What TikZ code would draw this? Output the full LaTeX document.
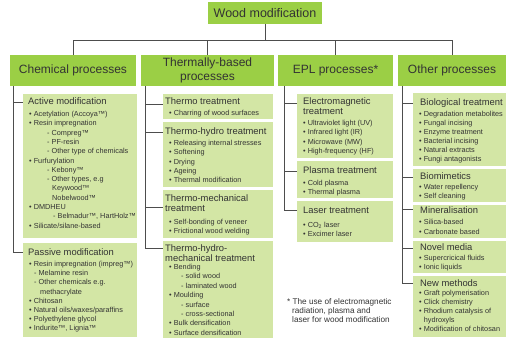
\documentclass[tikz,border=0pt]{standalone}
\usepackage{fontspec}
\setmainfont{Liberation Sans}
\usetikzlibrary{calc}
\definecolor{hdrgreen}{HTML}{9BCF45}
\definecolor{subgreen}{HTML}{D3E6A5}
\definecolor{txt}{HTML}{333333}
\definecolor{linec}{HTML}{4D4D4D}
\begin{document}
\begin{tikzpicture}[x=1pt,y=-1pt,
  hdr/.style={fill=hdrgreen, inner sep=0pt, text=txt, align=center, font=\fontsize{12}{14}\selectfont},
  sub/.style={fill=subgreen, inner sep=0pt, anchor=north west},
  ttl/.style={anchor=north west, inner sep=0pt, yshift=4.3pt, align=left, text=txt, font=\fontsize{9.4}{10.5}\selectfont},
  itm/.style={anchor=north west, inner sep=0pt, yshift=3.3pt, align=left, text=txt, font=\fontsize{7.3}{9.3}\selectfont},
  note/.style={anchor=north west, inner sep=0pt, yshift=3.6pt, align=left, text=txt, font=\fontsize{8.2}{8.8}\selectfont},
  conn/.style={draw=linec, line width=0.8pt}]
\useasboundingbox (0,0) rectangle (506,345);

% top and headers
\node[hdr, minimum width=114pt, minimum height=22pt, font=\fontsize{12.5}{14}\selectfont] (wm) at (265,13) {Wood modification};
\node[hdr, minimum width=126pt, minimum height=31pt] (chem) at (73,70.5) {Chemical processes};
\node[hdr, minimum width=133pt, minimum height=31pt] (therm) at (207.5,70.5) {Thermally-based\\processes};
\node[hdr, minimum width=115pt, minimum height=31pt] (epl) at (335.5,70.5) {EPL processes*};
\node[hdr, minimum width=108pt, minimum height=31pt] (oth) at (452,70.5) {Other processes};

% sub boxes
\node[sub, minimum width=114pt, minimum height=144pt] (act) at (23,94) {};
\node[sub, minimum width=114pt, minimum height=94pt] (pas) at (23,243) {};
\node[sub, minimum width=110pt, minimum height=25pt] (tt) at (163,94) {};
\node[sub, minimum width=110pt, minimum height=65pt] (tht) at (163,122) {};
\node[sub, minimum width=110pt, minimum height=48pt] (tmt) at (163,190) {};
\node[sub, minimum width=110pt, minimum height=97pt] (thm) at (163,241) {};
\node[sub, minimum width=96pt, minimum height=64pt] (em) at (297,94) {};
\node[sub, minimum width=96pt, minimum height=37pt] (pl) at (297,161) {};
\node[sub, minimum width=96pt, minimum height=41pt] (la) at (297,201) {};
\node[sub, minimum width=93pt, minimum height=73pt] (bio) at (413,93) {};
\node[sub, minimum width=93pt, minimum height=33pt] (bm) at (413,169) {};
\node[sub, minimum width=93pt, minimum height=33pt] (mi) at (413,205) {};
\node[sub, minimum width=93pt, minimum height=32pt] (nm) at (413,241) {};
\node[sub, minimum width=93pt, minimum height=61pt] (nw) at (413,276) {};

% titles
\node[ttl] (act-t) at (28,101) {\rule{0pt}{7.2pt}Active modification};
\node[ttl] (pas-t) at (28,252) {\rule{0pt}{7.2pt}Passive modification};
\node[ttl] (tt-t) at (165,101) {\rule{0pt}{7.2pt}Thermo treatment};
\node[ttl] (tht-t) at (165,131) {\rule{0pt}{7.2pt}Thermo-hydro treatment};
\node[ttl] (tmt-t) at (165,198) {\rule{0pt}{7.2pt}Thermo-mechanical\\treatment};
\node[ttl] (thm-t) at (165,248) {\rule{0pt}{7.2pt}Thermo-hydro-\\mechanical treatment};
\node[ttl] (em-t) at (303,101) {\rule{0pt}{7.2pt}Electromagnetic\\treatment};
\node[ttl] (pl-t) at (303,170) {\rule{0pt}{7.2pt}Plasma treatment};
\node[ttl] (la-t) at (303,210) {\rule{0pt}{7.2pt}Laser treatment};
\node[ttl] (bio-t) at (420,102) {\rule{0pt}{7.2pt}Biological treatment};
\node[ttl] (bm-t) at (420,176) {\rule{0pt}{7.2pt}Biomimetics};
\node[ttl] (mi-t) at (420,210) {\rule{0pt}{7.2pt}Mineralisation};
\node[ttl] (nm-t) at (420,247) {\rule{0pt}{7.2pt}Novel media};
\node[ttl] (nw-t) at (420,283) {\rule{0pt}{7.2pt}New methods};

% items
\node[itm] (act-i) at (29,114) {\rule{0pt}{5.6pt}• Acetylation (Accoya™)\\
• Resin impregnation\\
\hspace*{18pt}- Compreg™\\
\hspace*{18pt}- PF-resin\\
\hspace*{18pt}- Other type of chemicals\\
• Furfurylation\\
\hspace*{18pt}- Kebony™\\
\hspace*{18pt}- Other types, e.g\\
\hspace*{23pt}Keywood™\\
\hspace*{23pt}Nobelwood™\\
• DMDHEU\\
\hspace*{24pt}- Belmadur™, HartHolz™\\
• Silicate/silane-based};
\node[itm, font=\fontsize{7.3}{9.2}\selectfont] (pas-i) at (29,264) {\rule{0pt}{5.6pt}• Resin impregnation (impreg™)\\
\hspace*{5pt}- Melamine resin\\
\hspace*{5pt}- Other chemicals e.g.\\
\hspace*{11pt}methacrylate\\
• Chitosan\\
• Natural oils/waxes/paraffins\\
• Polyethylene glycol\\
• Indurite™, Lignia™};
\node[itm] (tt-i) at (169,113) {\rule{0pt}{5.6pt}• Charring of wood surfaces};
\node[itm] (tht-i) at (169,143) {\rule{0pt}{5.6pt}• Releasing internal stresses\\
• Softening\\
• Drying\\
• Ageing\\
• Thermal modification};
\node[itm] (tmt-i) at (169,222) {\rule{0pt}{5.6pt}• Self-bonding of veneer\\
• Frictional wood welding};
\node[itm, font=\fontsize{7.3}{9.4}\selectfont] (thm-i) at (169,267) {\rule{0pt}{5.6pt}• Bending\\
\hspace*{12pt}- solid wood\\
\hspace*{12pt}- laminated wood\\
• Moulding\\
\hspace*{12pt}- surface\\
\hspace*{12pt}- cross-sectional\\
• Bulk densification\\
• Surface densification};
\node[itm] (em-i) at (303,123) {\rule{0pt}{5.6pt}• Ultraviolet light (UV)\\
• Infrared light (IR)\\
• Microwave (MW)\\
• High-frequency (HF)};
\node[itm, font=\fontsize{7.3}{8.5}\selectfont] (pl-i) at (303,183) {\rule{0pt}{5.6pt}• Cold plasma\\
• Thermal plasma};
\node[itm, font=\fontsize{7.3}{8.5}\selectfont] (la-i) at (303,225) {\rule{0pt}{5.6pt}• CO\textsubscript{2} laser\\
• Excimer laser};
\node[itm, font=\fontsize{7.3}{9}\selectfont] (bio-i) at (419,114) {\rule{0pt}{5.6pt}• Degradation metabolites\\
• Fungal incising\\
• Enzyme treatment\\
• Bacterial incising\\
• Natural extracts\\
• Fungi antagonists};
\node[itm, font=\fontsize{7.3}{9}\selectfont] (bm-i) at (419,187) {\rule{0pt}{5.6pt}• Water repellency\\
• Self cleaning};
\node[itm, font=\fontsize{7.3}{9.5}\selectfont] (mi-i) at (419,222) {\rule{0pt}{5.6pt}• Silica-based\\
• Carbonate based};
\node[itm, font=\fontsize{7.3}{9}\selectfont] (nm-i) at (419,258) {\rule{0pt}{5.6pt}• Supercricical fluids\\
• Ionic liquids};
\node[itm, font=\fontsize{7.3}{9}\selectfont] (nw-i) at (419,293) {\rule{0pt}{5.6pt}• Graft polymerisation\\
• Click chemistry\\
• Rhodium catalysis of\\
\hspace*{4.6pt}hydroxyls\\
• Modification of chitosan};

% footnote
\node[note] (fn) at (287,302) {\rule{0pt}{6.2pt}* The use of electromagnetic\\
\hspace*{5pt}radiation, plasma and\\
\hspace*{5pt}laser for wood modification};

% tree connectors
\coordinate (bus) at ($(wm.south)+(0,16)$);
\draw[conn] (wm.south) -- (bus);
\draw[conn] (chem.north) |- (bus) -| (oth.north);
\draw[conn] (therm.north) -- (therm.north |- bus);
\draw[conn] (epl.north) -- (epl.north |- bus);

% column spines and branches
\coordinate (cs) at ($(chem.south west)+(4,0)$);
\draw[conn] (cs) |- ($(act.north west)+(0,8)$);
\draw[conn] (cs) |- ($(pas.north west)+(0,9)$);

\coordinate (ts) at ($(therm.south west)+(5,0)$);
\draw[conn] (ts) |- ($(tt.north west)+(0,10)$);
\draw[conn] (ts) |- ($(tht.north west)+(0,10)$);
\draw[conn] (ts) |- ($(tmt.north west)+(0,17)$);
\draw[conn] (ts) |- ($(thm.north west)+(0,7)$);

\coordinate (es) at ($(epl.south west)+(7,0)$);
\draw[conn] (es) |- ($(em.north west)+(0,9)$);
\draw[conn] (es) |- ($(pl.north west)+(0,10)$);
\draw[conn] (es) |- ($(la.north west)+(0,9)$);

\coordinate (os) at ($(oth.south west)+(5,0)$);
\draw[conn] (os) |- ($(bio.north west)+(0,10)$);
\draw[conn] (os) |- ($(bm.north west)+(0,8)$);
\draw[conn] (os) |- ($(mi.north west)+(0,4)$);
\draw[conn] (os) |- ($(nm.north west)+(0,7)$);
\draw[conn] (os) |- ($(nw.north west)+(0,7)$);
\end{tikzpicture}
\end{document}
